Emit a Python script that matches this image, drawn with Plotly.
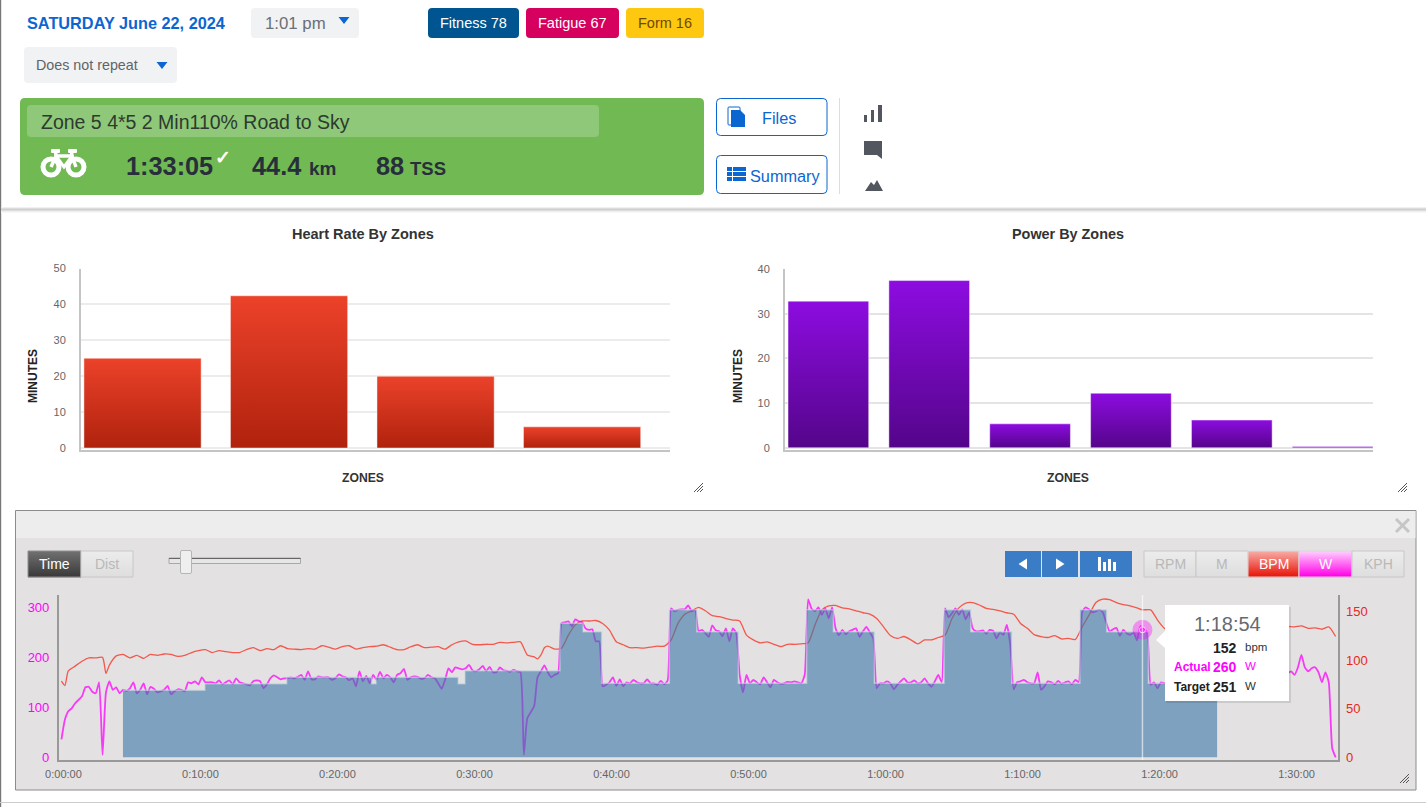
import plotly.graph_objects as go

W, H = 1426, 807

# zone charts
hr_zones = ["Z1", "Z2", "Z3", "Z4"]
hr_minutes = [25, 42.4, 20, 5.9]
power_zones = ["Z1", "Z2", "Z3", "Z4", "Z5", "Z6"]
power_minutes = [32.8, 37.4, 5.35, 12.2, 6.2, 0.3]
hr_ticks = [0, 10, 20, 30, 40, 50]
power_ticks = [0, 10, 20, 30, 40]

# workout chart, target steps (start minute, watts)
target_min = [4.49, 10.47, 16.44, 22.64, 22.96, 28.96, 29.45, 36.39, 38.07, 39.43, 44.37, 46.37,
              49.40, 54.39, 56.34, 59.33, 64.42, 66.37, 69.36, 74.34, 76.29, 79.33, 84.35]
target_w = [134, 147, 160, 147, 160, 147, 173, 268, 251, 148, 295, 251,
            148, 295, 251, 148, 295, 251, 148, 295, 251, 148, 148]

# actual power, one reading per 15 seconds
power_step_min = 0.25
power_w = [
    36, 75, 92, 98, 108, 115, 122, 140, 141, 131, 128, 150, 5, 130, 152, 135, 140, 128, 135, 133,
    138, 150, 128, 135, 148, 126, 141, 137, 130, 132, 135, 143, 126, 132, 136, 135, 132, 150, 148, 152,
    146, 160, 150, 150, 150, 148, 154, 146, 150, 154, 146, 158, 150, 148, 146, 144, 152, 154, 152, 138,
    146, 158, 164, 160, 156, 158, 158, 160, 158, 161, 165, 155, 172, 156, 156, 162, 160, 160, 160, 155,
    158, 166, 162, 160, 154, 158, 142, 172, 152, 163, 148, 165, 155, 171, 158, 165, 160, 150, 165, 168,
    177, 155, 160, 162, 161, 157, 158, 165, 160, 158, 148, 137, 155, 178, 170, 180, 178, 176, 178, 185,
    174, 172, 176, 183, 172, 181, 170, 170, 180, 174, 173, 171, 175, 172, 170, 5, 78, 90, 102, 160,
    172, 184, 170, 160, 165, 168, 268, 270, 272, 262, 276, 272, 270, 258, 255, 256, 232, 232, 142, 145,
    150, 160, 143, 156, 142, 150, 148, 155, 150, 148, 148, 156, 148, 148, 145, 153, 146, 154, 298, 292,
    295, 296, 296, 304, 292, 295, 252, 255, 248, 241, 264, 254, 252, 242, 258, 232, 258, 248, 165, 130,
    165, 148, 155, 150, 146, 160, 150, 140, 155, 150, 147, 148, 151, 150, 152, 150, 148, 165, 316, 297,
    292, 300, 285, 298, 278, 300, 258, 244, 255, 246, 252, 255, 258, 241, 252, 261, 250, 238, 138, 148,
    148, 152, 148, 136, 145, 152, 158, 150, 150, 154, 148, 150, 158, 148, 141, 152, 165, 150, 298, 280,
    288, 298, 285, 296, 276, 290, 258, 252, 252, 254, 247, 255, 253, 238, 250, 245, 265, 226, 136, 150,
    152, 155, 150, 148, 148, 170, 135, 142, 152, 150, 146, 153, 147, 150, 152, 146, 155, 150, 290, 300,
    296, 290, 292, 295, 290, 270, 252, 256, 259, 243, 255, 248, 245, 250, 234, 262, 258, 248, 145, 150,
    138, 150, 148, 150, 146, 152, 148, 150, 145, 152, 150, 147, 152, 148, 150, 146, 150, 152, 150, 155,
    152, 158, 150, 156, 160, 155, 162, 158, 155, 164, 160, 166, 158, 165, 162, 170, 165, 172, 168, 172,
    165, 180, 205, 180, 172, 178, 180, 170, 150, 170, 150, 18, 0,
]
power_min = [i * power_step_min for i in range(len(power_w))]

hr_min = [0, .25, .5, 1, 1.5, 2, 2.5, 3, 3.25, 3.5, 4, 4.5, 5, 5.5, 6, 6.5, 7, 7.5, 8, 8.5, 9, 9.5,
          10, 10.5, 11, 11.5, 12, 12.5, 13, 13.5, 14, 14.5, 15, 15.5, 16, 16.5, 17, 17.5, 18, 18.5, 19, 19.5,
          20, 20.5, 21, 21.5, 22, 22.5, 23, 23.5, 24, 24.5, 25, 25.5, 26, 26.5, 27, 27.5, 28, 28.5, 29, 29.5,
          30, 30.5, 31, 31.5, 32, 32.5, 33, 33.5, 34, 34.5, 34.75, 35, 35.25, 35.5, 36, 36.5, 37, 37.5, 38, 38.5, 39, 39.5,
          40, 40.5, 41, 41.5, 42, 42.5, 43, 43.5, 44, 44.5, 45, 45.5, 46, 46.5, 47, 47.5, 48, 48.5, 49, 49.5,
          50, 50.5, 51, 51.5, 52, 52.5, 53, 53.5, 54, 54.5, 55, 55.5, 56, 56.5, 57, 57.5, 58, 58.5, 59, 59.5,
          60, 60.5, 61, 61.5, 62, 62.5, 63, 63.5, 64, 64.5, 65, 65.5, 66, 66.5, 67, 67.5, 68, 68.5, 69, 69.5,
          70, 70.5, 71, 71.5, 72, 72.5, 73, 73.5, 74, 74.5, 75, 75.5, 76, 76.5, 77, 77.5, 78, 78.5, 78.9, 79.5,
          80, 80.5, 81, 82, 83, 84, 85, 86, 87, 88, 89, 89.5, 90, 90.5, 91, 91.5, 92, 92.5, 93]
hr_bpm = [78.5, 74, 89, 94, 99, 102.5, 102.5, 103, 86.5, 95, 104.5, 106, 102.5, 105, 102, 106, 105, 106.5, 106, 104, 105, 108,
          110, 111, 108, 110, 109, 108, 108, 111, 113, 110, 112, 111, 115, 112, 111.5, 111, 112, 111.5, 115, 113.5,
          111.5, 114, 115, 111.5, 113, 114, 114.5, 116, 113.5, 111, 111, 114, 116, 113, 113.5, 114, 111.5, 116, 119, 120,
          116.5, 116, 116.5, 116.5, 118.5, 118, 118.5, 119, 105.5, 103.5, 101.5, 105.5, 113, 114.5, 111.5, 112.5, 126, 136.5, 140.5, 140.5, 141, 138,
          131, 119, 116, 113, 113, 112.5, 113.5, 114.5, 114.5, 121, 138, 147.5, 151, 154.5, 151, 146, 145, 143, 141.5, 140.5,
          126, 121, 118, 119, 116.5, 114, 116.5, 116.5, 117, 118, 136.5, 152, 156, 156.5, 154, 153, 151, 149, 147.5, 143,
          134.5, 125.5, 122.5, 124.5, 121, 117, 121, 121, 123.5, 126, 143, 154, 159, 159.5, 157, 153.5, 152.5, 151, 149, 147.5,
          138, 133, 126.5, 124.5, 123.5, 125.5, 122, 122.5, 121.5, 134.5, 146.5, 159.5, 163, 162.5, 159.5, 157.5, 156, 154, 152, 152,
          141.5, 133, 128, 129, 130, 131, 132, 133, 134, 134, 135, 135, 134.5, 135.5, 133, 133.5, 132, 134.5, 124.5]

x_ticks = [0, 10, 20, 30, 40, 50, 60, 70, 80, 90]
x_labels = ["0:00:00", "0:10:00", "0:20:00", "0:30:00", "0:40:00", "0:50:00", "1:00:00", "1:10:00", "1:20:00", "1:30:00"]
watt_ticks = [0, 100, 200, 300]
bpm_ticks = [0, 50, 100, 150]

hover_min = 78.9
hover_marker_w = 255

FONT = "Liberation Sans"
BLUE = "#0b66d1"
shapes = []
notes = []


def fx(x):
    return x / W


def fy(y):
    return 1 - y / H


def dom_x(a, b):
    return [a / W, b / W]


def dom_y(top, bottom):
    return [1 - bottom / H, 1 - top / H]


def rect(x0, y0, x1, y1, fill, line=None, lw=1, r=0, layer="below"):
    s = dict(type="path", xref="paper", yref="paper", layer=layer, fillcolor=fill,
             line=dict(color=line or "rgba(0,0,0,0)", width=lw if line else 0))
    if r:
        p = (f"M{fx(x0 + r)},{fy(y0)} L{fx(x1 - r)},{fy(y0)} Q{fx(x1)},{fy(y0)} {fx(x1)},{fy(y0 + r)} "
             f"L{fx(x1)},{fy(y1 - r)} Q{fx(x1)},{fy(y1)} {fx(x1 - r)},{fy(y1)} "
             f"L{fx(x0 + r)},{fy(y1)} Q{fx(x0)},{fy(y1)} {fx(x0)},{fy(y1 - r)} "
             f"L{fx(x0)},{fy(y0 + r)} Q{fx(x0)},{fy(y0)} {fx(x0 + r)},{fy(y0)} Z")
    else:
        p = f"M{fx(x0)},{fy(y0)} L{fx(x1)},{fy(y0)} L{fx(x1)},{fy(y1)} L{fx(x0)},{fy(y1)} Z"
    s["path"] = p
    shapes.append(s)


def poly(points, fill, line=None, lw=1, close=True, layer="below"):
    p = "M" + " L".join(f"{fx(a)},{fy(b)}" for a, b in points) + (" Z" if close else "")
    shapes.append(dict(type="path", xref="paper", yref="paper", layer=layer, path=p, fillcolor=fill,
                       line=dict(color=line or "rgba(0,0,0,0)", width=lw if line else 0)))


def ring(cx, cy, rad, color, lw):
    shapes.append(dict(type="circle", xref="paper", yref="paper", layer="below",
                       x0=fx(cx - rad), x1=fx(cx + rad), y0=fy(cy + rad), y1=fy(cy - rad),
                       fillcolor="rgba(0,0,0,0)", line=dict(color=color, width=lw)))


def grad(x0, y0, x1, y1, top, bottom, line="#c8c8c8"):
    # buttons in the panel fade from top to bottom
    rows = int(y1 - y0)
    for i in range(rows):
        f = i / max(rows - 1, 1)
        c = [round(top[k] + (bottom[k] - top[k]) * f) for k in range(3)]
        rect(x0, y0 + i, x1, y0 + i + 1.2, f"rgb({c[0]},{c[1]},{c[2]})")
    rect(x0, y0, x1, y1, "rgba(0,0,0,0)", line=line, lw=1)


def txt(x, y, s, size, color, bold=False, anchor="left", angle=0):
    notes.append(dict(x=fx(x), y=fy(y), xref="paper", yref="paper", text=f"<b>{s}</b>" if bold else s,
                      showarrow=False, xanchor=anchor, yanchor="middle", textangle=angle, borderpad=0,
                      font=dict(family=FONT, size=size, color=color)))


def handle(x, y, color="#555"):
    for d in (3, 6, 9):
        poly([(x + 5 - d, y + 5), (x + 5, y + 5 - d)], "rgba(0,0,0,0)", line=color, lw=1, close=False)


# ---- page frame
rect(0, 0, 1.2, H, "#777777")
for i, c in enumerate(["#f0f0f0", "#dcdcdc", "#cfcfcf", "#dedede", "#eeeeee", "#f8f8f8"]):
    rect(1, 207 + i, W, 208 + i, c)
rect(0, 802, W, 803, "#cccccc")

# ---- header
txt(26, 23, "SATURDAY June 22, 2024", 16.3, BLUE, bold=True)
rect(251, 8, 359, 38, "#f1f2f4", r=4)
txt(264, 23, "1:01 pm", 16.8, "#6a6f75")
poly([(338.5, 17), (349.5, 17), (344, 24)], BLUE)
rect(428, 8, 519, 38, "#00548f", r=4)
txt(473.5, 23, "Fitness 78", 14.5, "#ffffff", anchor="center")
rect(526, 8, 619, 38, "#d6005f", r=4)
txt(572.5, 23, "Fatigue 67", 14.5, "#ffffff", anchor="center")
rect(626, 8, 704, 38, "#fdc80f", r=4)
txt(665, 23, "Form 16", 14.5, "#6e4a00", anchor="center")
rect(24, 47, 177, 83, "#f1f2f4", r=4)
txt(35, 65, "Does not repeat", 14.3, "#5f6468")
poly([(156.5, 62), (167.5, 62), (162, 69)], BLUE)

# ---- activity card
rect(20, 98, 704, 195, "#71b953", r=5)
rect(27, 105, 599, 137, "#8fc878", r=4)
txt(40, 122, "Zone 5 4*5 2 Min110% Road to Sky", 19.5, "#2c3a30")
ring(51, 167, 8, "#ffffff", 5)
ring(76, 167, 8, "#ffffff", 5)
poly([(51, 167), (56, 156), (72, 156), (76, 167)], "rgba(0,0,0,0)", line="#ffffff", lw=3.5, close=False)
poly([(56, 156), (64, 167), (72, 156)], "rgba(0,0,0,0)", line="#ffffff", lw=3, close=False)
rect(51, 149, 60, 153, "#ffffff", r=1)
rect(68, 149, 77, 153, "#ffffff", r=1)
rect(54, 149, 57.5, 157, "#ffffff")
rect(70, 149, 73.5, 157, "#ffffff")
txt(124.5, 166, "1:33:05", 25.3, "#27303a", bold=True)
txt(214, 157, "✓", 19, "#ffffff", bold=True)
txt(250.5, 166, "44.4", 25.3, "#27303a", bold=True)
txt(307.5, 168, "km", 19, "#27303a", bold=True)
txt(374.5, 166, "88", 25.3, "#27303a", bold=True)
txt(409, 168, "TSS", 18.5, "#27303a", bold=True)

rect(716.5, 98.5, 827, 135.5, "#ffffff", line=BLUE, lw=1, r=4)
rect(728, 107, 740, 125, "#ffffff", line=BLUE, lw=1, r=1)
poly([(731, 110), (740, 110), (745, 115), (745, 127), (731, 127)], BLUE)
txt(761, 118, "Files", 16.3, BLUE)
rect(716.5, 155.5, 827, 193.5, "#ffffff", line=BLUE, lw=1, r=4)
for yy in (167, 172, 177):
    rect(727, yy, 732, yy + 4, BLUE)
    rect(733, yy, 746, yy + 4, BLUE)
txt(749, 176, "Summary", 16.3, BLUE)
rect(839, 98, 840, 194, "#dddddd")

rect(864, 115, 867, 122, "#52565e")
rect(871, 110, 874, 122, "#52565e")
rect(878, 105, 882, 122, "#52565e")
poly([(864, 141), (882, 141), (882, 159), (877, 155), (864, 155)], "#52565e")
poly([(865, 191), (871, 182), (874, 185), (877, 180), (883, 191)], "#52565e")

# ---- zone chart furniture
txt(363, 234, "Heart Rate By Zones", 14.5, "#333333", bold=True, anchor="center")
txt(1067.5, 234, "Power By Zones", 14.4, "#333333", bold=True, anchor="center")
txt(363, 478, "ZONES", 12.2, "#333333", bold=True, anchor="center")
txt(1067.5, 478, "ZONES", 12.2, "#333333", bold=True, anchor="center")
txt(33, 376, "MINUTES", 12, "#222222", bold=True, anchor="center", angle=-90)
txt(738, 376, "MINUTES", 12, "#222222", bold=True, anchor="center", angle=-90)
handle(698, 487)
handle(1402, 487)

# ---- workout panel
rect(15.5, 510.5, 1416, 790, "#e3e1e2", line="#8c8c8c", lw=1)
rect(16, 511, 1415.5, 538, "#ededed")
for a, b in (((1396, 519), (1409, 532)), ((1409, 519), (1396, 532))):
    poly([a, b], "rgba(0,0,0,0)", line="#c6c6c6", lw=3, close=False)
handle(1404, 778)

grad(28, 551, 81, 577, (112, 112, 112), (58, 58, 58), line="#8e8e8e")
txt(54.5, 564, "Time", 14, "#ffffff", anchor="center")
grad(81, 551, 133, 577, (236, 236, 236), (222, 222, 222))
txt(107, 564, "Dist", 14, "#b8b8b8", anchor="center")

rect(169, 558, 300.5, 563.5, "#e6e6e6", line="#a8a8a8", lw=1)
rect(169, 558, 300.5, 559, "#666666")
rect(180.5, 550.5, 191.5, 573.5, "#efefef", line="#b5b5b5", lw=1, r=1.5)

for x0, x1 in ((1005, 1041), (1042, 1078), (1080, 1132)):
    rect(x0, 551, x1, 577, "#3a7cc5")
poly([(1018.5, 564), (1027, 558.5), (1027, 569.5)], "#ffffff")
poly([(1064.5, 564), (1056, 558.5), (1056, 569.5)], "#ffffff")
rect(1098, 557, 1101, 571, "#ffffff")
rect(1103, 562, 1106, 571, "#ffffff")
rect(1108, 559, 1111, 571, "#ffffff")
rect(1113, 562, 1116, 571, "#ffffff")

grad(1144, 551, 1196, 577, (236, 236, 236), (222, 222, 222))
txt(1170, 564, "RPM", 14, "#b8b8b8", anchor="center")
grad(1196, 551, 1248, 577, (236, 236, 236), (222, 222, 222))
txt(1222, 564, "M", 14, "#b8b8b8", anchor="center")
grad(1248, 551, 1299, 577, (248, 170, 165), (232, 20, 8), line="#d8d8d8")
txt(1273.5, 564, "BPM", 14, "#ffffff", anchor="center")
grad(1299, 551, 1352, 577, (255, 205, 255), (255, 0, 230), line="#d8d8d8")
txt(1325.5, 564, "W", 14, "#ffffff", anchor="center")
grad(1352, 551, 1404, 577, (236, 236, 236), (222, 222, 222))
txt(1378, 564, "KPH", 14, "#b8b8b8", anchor="center")

# ---- tooltip
shapes.append(dict(type="line", xref="x3", yref="paper", x0=hover_min, x1=hover_min,
                   y0=fy(760), y1=fy(595), layer="above",
                   line=dict(color="rgba(255,255,255,0.6)", width=1.5)))
rect(1166, 607, 1291, 703, "rgba(0,0,0,0.10)", layer="above")
rect(1165, 605, 1289, 701, "#ffffff", layer="above")
poly([(1165, 631), (1156, 640), (1165, 648)], "#ffffff", layer="above")
txt(1227, 624, "1:18:54", 20, "#666a70", anchor="center")
txt(1238, 648, "152", 14, "#222222", bold=True, anchor="right")
txt(1244, 647, "bpm", 11.5, "#333333")
txt(1173, 667, "Actual", 12, "#ff00ff", bold=True)
txt(1238, 667, "260", 14, "#ff00ff", bold=True, anchor="right")
txt(1244, 666, "W", 11.5, "#ff00ff")
txt(1173, 687, "Target", 12, "#222222", bold=True)
txt(1238, 687, "251", 14, "#222222", bold=True, anchor="right")
txt(1244, 686, "W", 11.5, "#333333")

fig = go.Figure()

fig.add_trace(go.Bar(x=hr_zones, y=hr_minutes, width=0.8, xaxis="x", yaxis="y", showlegend=False,
                     marker=dict(color="#d03018", line=dict(color="rgba(255,255,255,0.45)", width=1))))
fig.add_trace(go.Bar(x=power_zones, y=power_minutes, width=0.8, xaxis="x2", yaxis="y2", showlegend=False,
                     marker=dict(color="#7008b0", line=dict(color="rgba(255,255,255,0.45)", width=1))))

# heart rate sits on the base axis so that power and the target fill draw over it
fig.add_trace(go.Scatter(x=hr_min, y=hr_bpm, mode="lines", xaxis="x3", yaxis="y3", showlegend=False,
                         line=dict(color="#f4584c", width=1.3, shape="spline", smoothing=0.6)))
fig.add_trace(go.Scatter(x=power_min, y=power_w, mode="lines", xaxis="x3", yaxis="y4", showlegend=False,
                         line=dict(color="rgba(255,0,255,0.75)", width=1.8, shape="spline", smoothing=0.5)))
fig.add_trace(go.Scatter(x=target_min, y=target_w, mode="lines", xaxis="x3", yaxis="y4", showlegend=False,
                         line=dict(color="rgba(205,218,228,0.55)", width=1.5, shape="hv"),
                         fill="tozeroy", fillcolor="rgba(59,118,168,0.6)"))
fig.add_trace(go.Scatter(x=[hover_min], y=[hover_marker_w], mode="markers", xaxis="x3", yaxis="y4", showlegend=False,
                         marker=dict(size=20, color="rgba(255,0,255,0.35)",
                                     line=dict(color="rgba(255,255,255,0.0)", width=0))))
fig.add_trace(go.Scatter(x=[hover_min], y=[hover_marker_w], mode="markers", xaxis="x3", yaxis="y4", showlegend=False,
                         marker=dict(size=6, color="rgba(255,0,255,0.7)",
                                     line=dict(color="rgba(255,255,255,0.8)", width=1))))

grey_tick = dict(family=FONT, size=11, color="#666666")
AXIS_GREY = "#c4c4c4"

fig.update_layout(
    template="none", width=W, height=H, autosize=False, margin=dict(l=0, r=0, t=0, b=0, pad=0),
    paper_bgcolor="#ffffff", plot_bgcolor="rgba(0,0,0,0)", bargap=0.2,
    font=dict(family=FONT), shapes=shapes, annotations=notes, hovermode=False,
    xaxis=dict(domain=dom_x(81, 670), anchor="y", range=[-0.42, 3.6], showticklabels=False, showgrid=False,
               zeroline=False, showline=True, linecolor=AXIS_GREY, linewidth=2, ticks="", automargin=False),
    yaxis=dict(domain=dom_y(268.5, 450), anchor="x", range=[-0.55, 50], tickvals=hr_ticks, tickfont=grey_tick,
               ticklabelstandoff=11, showgrid=True, gridcolor="#ececec", gridwidth=2, zeroline=False,
               showline=True, linecolor=AXIS_GREY, linewidth=2, ticks="", automargin=False),
    xaxis2=dict(domain=dom_x(785, 1373), anchor="y2", range=[-0.43, 5.4], showticklabels=False, showgrid=False,
                zeroline=False, showline=True, linecolor=AXIS_GREY, linewidth=2, ticks="", automargin=False),
    yaxis2=dict(domain=dom_y(268.5, 450), anchor="x2", range=[-0.5, 40.1], tickvals=power_ticks, tickfont=grey_tick,
                ticklabelstandoff=11, showgrid=True, gridcolor="#e4e4e4", gridwidth=2, zeroline=False,
                showline=True, linecolor=AXIS_GREY, linewidth=2, ticks="", automargin=False),
    xaxis3=dict(domain=dom_x(58.7, 1337.7), anchor="y3", range=[-0.2, 93.15], tickvals=x_ticks, ticktext=x_labels,
                tickfont=grey_tick, ticklabelshift=2, ticklabelstandoff=3, showgrid=False, zeroline=False,
                showline=True, linecolor="#999999", linewidth=1.5, ticks="", automargin=False),
    yaxis3=dict(domain=dom_y(595, 760), anchor="x3", side="right", range=[-2.78, 167.3], tickvals=bpm_ticks,
                tickfont=dict(family=FONT, size=13, color="#e8281a"), ticklabelstandoff=4, showgrid=False,
                zeroline=False, showline=True, linecolor="#999999", linewidth=1.5, ticks="", automargin=False),
    yaxis4=dict(overlaying="y3", anchor="x3", side="left", range=[-5.4, 324.6], tickvals=watt_ticks,
                tickfont=dict(family=FONT, size=13, color="#ff00ff"), ticklabelstandoff=5, showgrid=False,
                zeroline=False, showline=True, linecolor="#999999", linewidth=1.5, ticks="", automargin=False),
)

post = """
document.body.style.margin = '0';
document.documentElement.style.overflow = 'hidden';
var svg = document.querySelector('svg.main-svg');
var defs = svg.querySelector('defs');
function addGrad(id, top, bottom) {
  var g = document.createElementNS('http://www.w3.org/2000/svg', 'linearGradient');
  g.setAttribute('id', id);
  g.setAttribute('x1', '0'); g.setAttribute('y1', '0'); g.setAttribute('x2', '0'); g.setAttribute('y2', '1');
  [[0, top], [1, bottom]].forEach(function (s) {
    var st = document.createElementNS('http://www.w3.org/2000/svg', 'stop');
    st.setAttribute('offset', s[0]); st.setAttribute('stop-color', s[1]);
    g.appendChild(st);
  });
  defs.appendChild(g);
}
addGrad('hrFade', '#ec422a', '#b0220d');
addGrad('powerFade', '#8d0ce0', '#54058a');
document.querySelectorAll('.subplot.xy .barlayer .point path').forEach(function (p) { p.style.fill = 'url(#hrFade)'; });
document.querySelectorAll('.subplot.x2y2 .barlayer .point path').forEach(function (p) { p.style.fill = 'url(#powerFade)'; });
"""

fig.write_html("out.html", post_script=post, config={"displayModeBar": False})
